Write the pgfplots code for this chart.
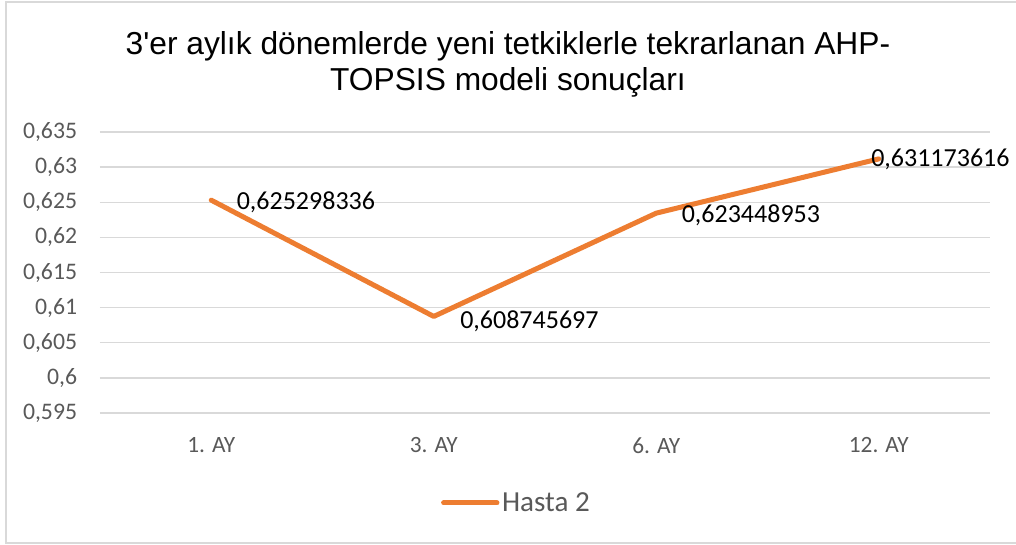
\documentclass[border=0pt]{standalone}
\usepackage{pgfplots}
\pgfplotsset{compat=1.18}
\usepackage{pgfplotstable}
\usepackage{fontspec}
\setmainfont{Carlito}
\newfontfamily\titlefont{Liberation Sans}
\definecolor{lineorange}{HTML}{ED7D31}
\definecolor{gridgray}{HTML}{D9D9D9}
\definecolor{labelgray}{HTML}{595959}
\pgfplotstableread{
x y label dx dy
0 0.625298336 0,625298336 17.25 -1.5
1 0.608745697 0,608745697 18 -3.5
2 0.623448953 0,623448953 17.25 -1.5
3 0.631173616 0,631173616 -7.5 0
}\datatable
\begin{document}
\begin{tikzpicture}
\useasboundingbox (-75pt,-98.25pt) rectangle (687pt,309.75pt);
\begin{scope}
\clip (-75pt,-98.25pt) rectangle (687pt,309.75pt);
\draw[gridgray, line width=1.5pt] (-70.5pt,-97.5pt) rectangle (700pt,308pt);
\end{scope}
\begin{axis}[
  at={(0pt,0pt)}, anchor=south west,
  scale only axis, width=667.5pt, height=210.75pt,
  xmin=-0.5, xmax=3.5, ymin=0.595, ymax=0.635,
  xtick={0,1,2,3}, xticklabels={1. AY,3. AY,6. AY,12. AY},
  ytick={0.595,0.6,0.605,0.61,0.615,0.62,0.625,0.63,0.635},
  yticklabels={{0,595},{0,6},{0,605},{0,61},{0,615},{0,62},{0,625},{0,63},{0,635}},
  axis line style={draw=none},
  major tick length=0pt,
  ymajorgrids, grid style={gridgray, line width=1.1pt},
  yticklabel style={font=\fontsize{17.8}{21}\selectfont, text=labelgray, inner sep=0pt, xshift=-17pt},
  xticklabel style={font=\fontsize{17.5}{21}\selectfont, text=labelgray, inner sep=0pt, yshift=-18pt},
  title={3'er aylık dönemlerde yeni tetkiklerle tekrarlanan AHP-\\TOPSIS modeli sonuçları},
  title style={at={(0.4584,1.214)}, anchor=center, align=center, font=\titlefont\fontsize{23.8}{27}\selectfont, inner sep=0pt},
  legend style={at={(0.383,-0.320)}, anchor=west, draw=none, fill=none, inner sep=0pt,
    font=\fontsize{21.8}{25}\selectfont, text=labelgray},
  legend image code/.code={\draw[#1, line cap=round] (0pt,0pt) -- (40pt,0pt);},
  clip=false,
]
\addplot[lineorange, line width=3.75pt, line cap=round, line join=round,
  nodes near coords, point meta=explicit symbolic,
  visualization depends on={\thisrow{dx} \as \dx},
  visualization depends on={\thisrow{dy} \as \dy},
  every node near coord/.append style={anchor=west, inner sep=0pt, text=black,
    font=\fontsize{19.5}{23}\selectfont, xshift=\dx pt, yshift=\dy pt},
] table[x=x, y=y, meta=label] {\datatable};
\addlegendentry{Hasta 2}
\end{axis}
\end{tikzpicture}
\end{document}
